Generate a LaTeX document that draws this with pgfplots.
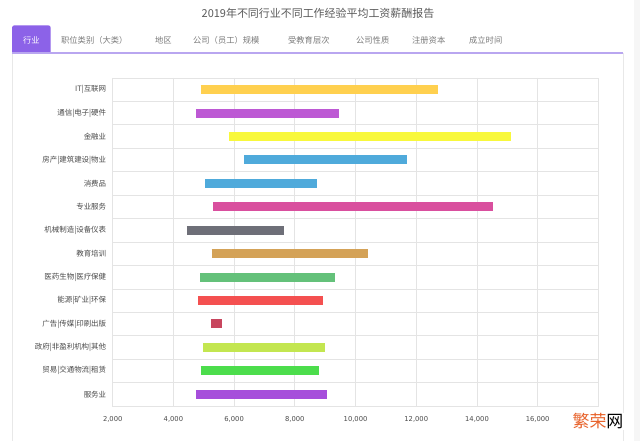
\documentclass[border=0pt]{standalone}
\usepackage{pgfplots}
\pgfplotsset{compat=1.18}
\usepackage{fontspec}
\setmainfont{Noto Sans CJK SC}
\newfontfamily\numfont{DejaVu Sans}

\definecolor{titlegray}{HTML}{5A5A5A}
\definecolor{tabgray}{HTML}{7A7A7A}
\definecolor{labgray}{HTML}{4A4A4A}
\definecolor{gridgray}{HTML}{E4E4E4}
\definecolor{panelgray}{HTML}{E8E8E8}
\definecolor{tabpurple}{HTML}{8C62E8}
\definecolor{tabline}{HTML}{B9A6F0}
\definecolor{wmorange}{HTML}{E8622A}
% bar colours, top to bottom
\definecolor{cIT}{HTML}{FFD04F}
\definecolor{cTX}{HTML}{BD59D4}
\definecolor{cJR}{HTML}{F8F83C}
\definecolor{cFC}{HTML}{4FAADB}
\definecolor{cXF}{HTML}{4FAADB}
\definecolor{cZY}{HTML}{D94F9E}
\definecolor{cJX}{HTML}{6E6F78}
\definecolor{cJY}{HTML}{D4A257}
\definecolor{cYY}{HTML}{64C17A}
\definecolor{cNY}{HTML}{F45050}
\definecolor{cGG}{HTML}{C8465E}
\definecolor{cZF}{HTML}{C3E650}
\definecolor{cMY}{HTML}{4CDD4C}
\definecolor{cFW}{HTML}{A64EDB}

\begin{document}
\begin{tikzpicture}[x=1bp,y=1bp]
\useasboundingbox (0,0) rectangle (640,441);
\fill[white] (0,0) rectangle (640,441);
\fill[gray!7] (634,0) rectangle (640,441);

% title
\node[font=\fontsize{11}{13}\selectfont, text=titlegray] at (318,427.5)
  {2019年不同行业不同工作经验平均工资薪酬报告};

% panel and tabs
\draw[panelgray, line width=0.8bp] (12,388) -- (12,0);
\draw[panelgray, line width=0.8bp] (623,388) -- (623,0);
\fill[tabpurple] (12,388) [rounded corners=2.5bp] -- (12,415.7) -- (50.7,415.7) [sharp corners] -- (50.7,388) -- cycle;
\draw[tabline, line width=1.3bp] (12,388) -- (623,388);
\node[font=\fontsize{8.3}{10}\selectfont, text=white] at (31.4,401) {行业};
\begin{scope}[every node/.style={font=\fontsize{8.3}{10}\selectfont, text=tabgray, anchor=west, inner sep=0pt}]
\node at (61,401) {职位类别（大类）};
\node at (155,401) {地区};
\node at (193,401) {公司（员工）规模};
\node at (288,401) {受教育层次};
\node at (356,401) {公司性质};
\node at (412,401) {注册资本};
\node at (469,401) {成立时间};
\end{scope}

\begin{axis}[
  at={(112.7bp,35bp)}, anchor=south west,
  scale only axis, width=485.7bp, height=328bp,
  xmin=2000, xmax=18000,
  ymin=-0.5, ymax=13.5, y dir=reverse,
  xtick={2000,4000,...,16000},
  scaled x ticks=false,
  xticklabel style={/pgf/number format/1000 sep={,},
    /pgf/number format/assume math mode=true, yshift=-7bp,
    font=\numfont\fontsize{6.8}{8}\selectfont},
  ytick={0,...,13},
  yticklabels={IT|互联网, 通信|电子|硬件, 金融业, 房产|建筑建设|物业, 消费品, 专业服务,
    机械制造|设备仪表, 教育培训, 医药生物|医疗保健, 能源|矿业|环保, 广告|传媒|印刷出版,
    政府|非盈利机构|其他, 贸易|交通物流|租赁, 服务业},
  minor ytick={-0.5,0.5,...,13.5},
  xmajorgrids=true, yminorgrids=true,
  grid style={gridgray, line width=0.7bp},
  minor grid style={gridgray, line width=0.7bp},
  axis line style={gridgray, line width=0.7bp},
  major tick length=0pt, minor tick length=0pt,
  tick label style={text=labgray},
  yticklabel style={xshift=-3bp, font=\fontsize{7.5}{8}\selectfont},
  every axis plot/.append style={line width=9bp, line cap=butt},
]
\addplot[cIT] coordinates {(4900,0) (12700,0)};
\addplot[cTX] coordinates {(4740,1) (9450,1)};
\addplot[cJR] coordinates {(5840,2) (15120,2)};
\addplot[cFC] coordinates {(6340,3) (11710,3)};
\addplot[cXF] coordinates {(5050,4) (8740,4)};
\addplot[cZY] coordinates {(5310,5) (14520,5)};
\addplot[cJX] coordinates {(4440,6) (7640,6)};
\addplot[cJY] coordinates {(5260,7) (10420,7)};
\addplot[cYY] coordinates {(4880,8) (9320,8)};
\addplot[cNY] coordinates {(4820,9) (8920,9)};
\addplot[cGG] coordinates {(5230,10) (5600,10)};
\addplot[cZF] coordinates {(4970,11) (9000,11)};
\addplot[cMY] coordinates {(4900,12) (8810,12)};
\addplot[cFW] coordinates {(4740,13) (9050,13)};
\end{axis}

% watermark
\node[fill=white, inner sep=1bp, font=\fontsize{17}{19}\selectfont] at (598,19.5)
  {\textcolor{wmorange}{繁荣}网};
\end{tikzpicture}
\end{document}
